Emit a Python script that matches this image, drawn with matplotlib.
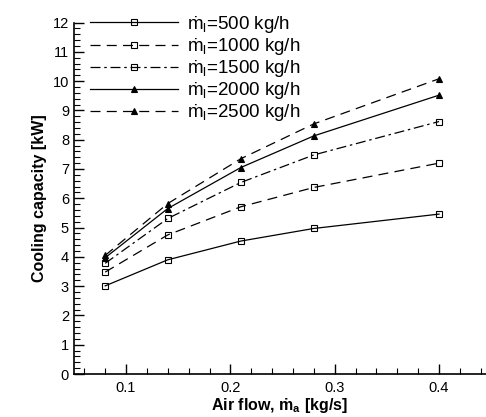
import matplotlib.pyplot as plt
from matplotlib.ticker import MultipleLocator

plt.rcParams['font.family'] = ['Liberation Sans', 'DejaVu Sans']

air_flow = [0.08, 0.14, 0.21, 0.28, 0.40]
cap_500 = [3.01, 3.90, 4.54, 4.97, 5.46]
cap_1000 = [3.48, 4.75, 5.71, 6.37, 7.20]
cap_1500 = [3.78, 5.31, 6.54, 7.48, 8.62]
cap_2000 = [3.97, 5.65, 7.05, 8.13, 9.52]
cap_2500 = [4.05, 5.82, 7.35, 8.54, 10.08]
labels = ['500', '1000', '1500', '2000', '2500']

series = [cap_500, cap_1000, cap_1500, cap_2000, cap_2500]
styles = [
    ('-', 's', 'none'),
    ((0, (8, 5)), 's', 'none'),
    ((0, (8, 3, 2, 3)), 's', 'none'),
    ('-', '^', 'black'),
    ((0, (8, 5)), '^', 'black'),
]

fig = plt.figure(figsize=(4.86, 4.17), dpi=100)
ax = fig.add_axes([0.152, 0.103, 0.848, 0.843])

for vals, lab, (ls, mk, fc) in zip(series, labels, styles):
    ax.plot(air_flow, vals, color='black', linestyle=ls, linewidth=0.9,
            marker=mk, markersize=4.5, markerfacecolor=fc, markeredgewidth=0.8,
            label='\u1e41$_\\mathregular{l}$=' + lab + ' kg/h')

ax.set_xlim(0.05, 0.445)
ax.set_ylim(0, 12)
ax.xaxis.set_major_locator(MultipleLocator(0.1))
ax.xaxis.set_minor_locator(MultipleLocator(0.02))
ax.yaxis.set_major_locator(MultipleLocator(1))
ax.yaxis.set_minor_locator(MultipleLocator(0.2))
ax.tick_params(which='both', direction='in', labelsize=10.5, colors='black')
ax.tick_params(which='major', length=7, width=1)
ax.tick_params(which='minor', length=4, width=0.8)
ax.tick_params(axis='x', pad=5)
ax.spines['top'].set_visible(False)
ax.spines['right'].set_visible(False)
ax.spines['left'].set_linewidth(1.2)
ax.spines['bottom'].set_linewidth(1.2)

ax.set_xlabel('Air flow, \u1e41$_\\mathregular{a}$ [kg/s]',
              fontsize=11.5, fontweight='bold', labelpad=1)
ax.set_ylabel('Cooling capacity [kW]', fontsize=11.5, fontweight='bold')

ax.legend(loc='upper left', bbox_to_anchor=(0.017, 1.051), frameon=False,
          fontsize=13.5, handlelength=4.7, handletextpad=0.45,
          labelspacing=0.06, borderaxespad=0.3, borderpad=0.2)

fig.savefig('out.png', dpi=100)
